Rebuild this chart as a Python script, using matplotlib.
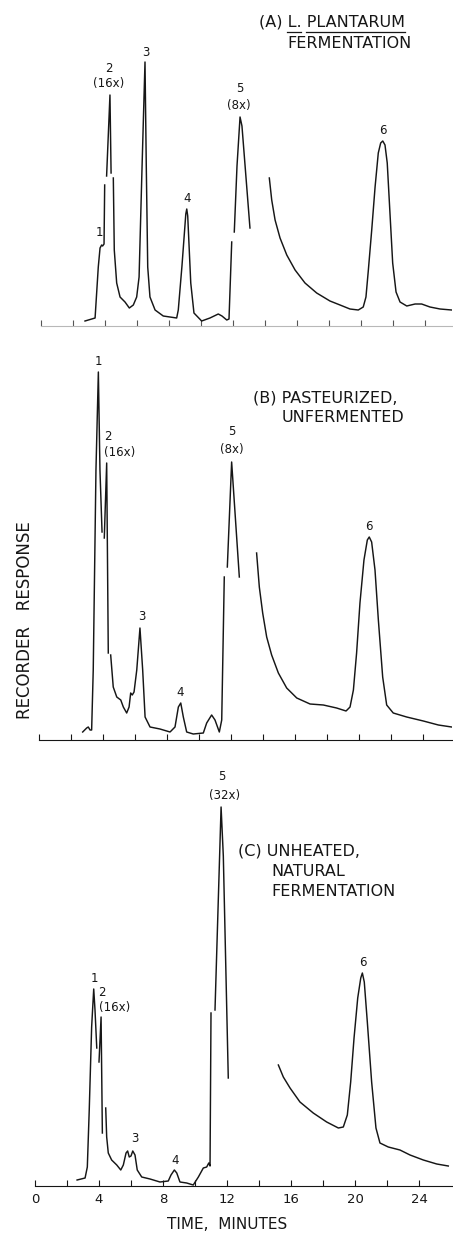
import matplotlib.pyplot as plt
from matplotlib.lines import Line2D

W, H = 453, 1237
INK = '#161616'

# ---- (A) L. plantarum fermentation: trace pieces (minutes, response)
a_time = [
    [2.75, 3.38, 3.58, 3.69, 3.79, 3.85, 3.94, 3.98],
    [4.10, 4.31, 4.38],
    [4.52, 4.58, 4.73, 4.94, 5.25, 5.52, 5.77, 5.98, 6.13, 6.30, 6.50, 6.58, 6.67,
     6.81, 7.13, 7.64, 8.48, 8.58, 8.81, 9.05, 9.11, 9.17, 9.36, 9.56, 10.04, 10.56,
     11.08, 11.31, 11.61, 11.75, 11.92],
    [12.08, 12.25, 12.44, 12.56, 13.06],
    [14.27, 14.42, 14.63, 14.94, 15.36, 15.88, 16.50, 17.23, 18.06, 18.69, 19.31,
     19.83, 20.14, 20.31, 20.46, 20.67, 20.88, 21.08, 21.23, 21.36, 21.50, 21.64,
     21.81, 21.98, 22.19, 22.44, 22.86, 23.38, 23.79, 24.31, 24.94, 25.67],
]
a_resp = [
    [5, 8, 59, 78, 81, 80, 82, 141],
    [150, 231, 153],
    [148, 76, 43, 29, 24, 18, 21, 29, 49, 150, 264, 160, 59,
     29, 16, 10, 8, 16, 60, 112, 117, 110, 43, 13, 5, 8,
     12, 10, 6, 7, 84],
    [94, 160, 209, 200, 98],
    [148, 126, 106, 88, 71, 56, 43, 33, 25, 21, 17,
     16, 19, 29, 56, 96, 139, 173, 183, 185, 181, 163,
     113, 63, 34, 24, 20, 22, 22, 19, 17, 16],
]
a_labels = ['1', '2', '(16x)', '3', '4', '5', '(8x)', '6']

# ---- (B) pasteurized, unfermented
b_time = [
    [2.73, 2.98, 3.08, 3.19, 3.29, 3.39, 3.56, 3.71, 3.81, 3.94],
    [4.08, 4.23, 4.33],
    [4.48, 4.64, 4.86, 5.11, 5.27, 5.48, 5.63, 5.73, 5.83, 5.94, 6.11, 6.31, 6.48,
     6.63, 6.94, 7.56, 8.19, 8.50, 8.71, 8.86, 9.02, 9.23, 9.64, 10.27, 10.48,
     10.79, 11.00, 11.27, 11.42, 11.58],
    [11.77, 12.04, 12.52],
    [13.60, 13.77, 13.98, 14.23, 14.54, 14.96, 15.48, 16.11, 16.94, 17.77, 18.60,
     19.19, 19.44, 19.65, 19.85, 20.06, 20.31, 20.52, 20.64, 20.79, 21.00, 21.21,
     21.48, 21.73, 22.14, 22.98, 24.02, 24.96, 25.79],
]
b_resp = [
    [8, 12, 13, 10, 10, 70, 270, 368, 270, 208],
    [202, 277, 87],
    [85, 53, 43, 40, 33, 27, 33, 47, 45, 48, 70, 112, 70,
     23, 13, 11, 8, 13, 33, 37, 23, 8, 6, 7, 17,
     25, 20, 8, 20, 163],
    [173, 278, 163],
    [187, 153, 127, 103, 85, 67, 52, 42, 36, 35, 32,
     29, 33, 50, 87, 137, 180, 200, 203, 198, 170, 120,
     63, 35, 27, 23, 19, 15, 13],
]
b_labels = ['1', '2', '(16x)', '3', '4', '5', '(8x)', '6']

# ---- (C) unheated, natural fermentation
c_time = [
    [2.63, 3.13, 3.27, 3.39, 3.54, 3.67, 3.75, 3.86],
    [4.00, 4.13, 4.21],
    [4.42, 4.48, 4.58, 4.79, 5.11, 5.36, 5.52, 5.69, 5.79, 5.89, 6.00, 6.11, 6.25,
     6.39, 6.67, 7.19, 7.81, 8.33, 8.50, 8.71, 8.86, 9.06, 9.48, 9.89, 10.21,
     10.52, 10.73, 10.86, 10.94, 11.00],
    [11.25, 11.63, 11.77, 12.08],
    [15.21, 15.52, 15.94, 16.56, 17.39, 18.23, 18.96, 19.27, 19.52, 19.73, 19.94,
     20.17, 20.36, 20.46, 20.58, 20.77, 21.04, 21.31, 21.56, 22.08, 22.81, 23.44,
     24.27, 25.11, 25.83],
]
c_resp = [
    [6, 8, 19, 76, 159, 197, 176, 138],
    [124, 169, 53],
    [78, 49, 33, 26, 21, 16, 21, 33, 35, 29, 30, 35, 31,
     16, 9, 7, 4, 5, 11, 16, 13, 4, 3, 1, 9,
     18, 19, 23, 20, 173],
    [176, 379, 330, 108],
    [121, 109, 98, 84, 73, 64, 58, 59, 71, 104, 148,
     188, 208, 213, 204, 164, 104, 58, 43, 39, 36, 31,
     26, 22, 20],
]
c_labels = ['1', '2', '(16x)', '3', '4', '5', '(32x)', '6']

time_ticks = [0, 2, 4, 6, 8, 10, 12, 14, 16, 18, 20, 22, 24]
time_ticklabels = ['0', '', '4', '', '8', '', '12', '', '16', '', '20', '', '24']

fig = plt.figure(figsize=(W / 100, H / 100), dpi=100)


def panel(left, base, top):
    ax = fig.add_axes([left / W, (H - base) / H, (452 - left) / W, (base - top) / H])
    ax.set_xlim(0, (452 - left) / 16)
    ax.set_ylim(0, base - top)
    for s in ['left', 'right', 'top']:
        ax.spines[s].set_visible(False)
    ax.set_yticks([])
    ax.patch.set_alpha(0)
    return ax


def trace(ax, times, resp):
    for t, r in zip(times, resp):
        ax.plot(t, r, color=INK, lw=1.05, solid_joinstyle='round')


def labels(ax, texts, pos):
    for s, (x, y) in zip(texts, pos):
        ax.text(x, y, s, fontsize=8.5, ha='center', va='center', color=INK)


ax_a = panel(41, 326, 6)
ax_b = panel(39, 740, 340)
ax_c = panel(35, 1186, 776)

trace(ax_a, a_time, a_resp)
trace(ax_b, b_time, b_resp)
trace(ax_c, c_time, c_resp)

labels(ax_a, a_labels, [(3.64, 94), (4.25, 258), (4.25, 242), (6.56, 273),
                        (9.13, 127), (12.44, 238), (12.38, 220), (21.38, 195)])
labels(ax_b, b_labels, [(3.71, 378), (4.33, 303), (5.06, 287), (6.42, 123),
                        (8.81, 47), (12.04, 308), (12.08, 290), (20.64, 213)])
labels(ax_c, c_labels, [(3.69, 208), (4.17, 194), (4.96, 178), (6.21, 47),
                        (8.75, 26), (11.67, 409), (11.875, 391), (20.48, 223)])

# axes ticks
for ax in (ax_a, ax_b, ax_c):
    ax.set_xticks(time_ticks)
    ax.tick_params(axis='x', direction='in', length=4, width=0.8, colors=INK)
ax_a.set_xticklabels([])
ax_b.set_xticklabels([])
ax_a.spines['bottom'].set_color('#b8b8b8')
ax_a.tick_params(axis='x', colors='#555555')
ax_b.spines['bottom'].set_color(INK)
ax_c.spines['bottom'].set_color(INK)
ax_c.set_xticklabels(time_ticklabels, fontsize=9.5, color=INK)
ax_c.tick_params(axis='x', pad=5)
ax_c.set_xlabel('TIME,  MINUTES', fontsize=11, color=INK)
ax_c.xaxis.set_label_coords((226.7 - 35) / 417, -(1217 - 1186) / 410)

# panel captions
FS = 11.5
ta = ax_a.text(18.16, 304, '(A) L. PLANTARUM', fontsize=FS, ha='center', va='center', color=INK)
ax_a.text(19.29, 282, 'FERMENTATION', fontsize=FS, ha='center', va='center', color=INK)
ax_b.text(17.9, 342, '(B) PASTEURIZED,', fontsize=FS, ha='center', va='center', color=INK)
ax_b.text(19.0, 322, 'UNFERMENTED', fontsize=FS, ha='center', va='center', color=INK)
ax_c.text(12.7, 335, '(C) UNHEATED,', fontsize=FS, ha='left', va='center', color=INK)
ax_c.text(14.79, 315, 'NATURAL', fontsize=FS, ha='left', va='center', color=INK)
ax_c.text(14.79, 294, 'FERMENTATION', fontsize=FS, ha='left', va='center', color=INK)

fig.text(25 / W, 1 - 620 / H, 'RECORDER   RESPONSE', rotation=90, fontsize=12,
         ha='center', va='center', color=INK)

# underline the species name
fig.canvas.draw()
r = fig.canvas.get_renderer()


def width(s):
    t = fig.text(0, 0, s, fontsize=FS)
    w = t.get_window_extent(r).width
    t.remove()
    return w


bb = ta.get_window_extent(r)
yl = bb.y0 - 2
x_l0 = bb.x0 + width('(A) L.') - width('L.')
x_l1 = bb.x0 + width('(A) L.')
x_p0 = bb.x1 - width('PLANTARUM')
for x0, x1 in [(x_l0, x_l1), (x_p0, bb.x1)]:
    fig.add_artist(Line2D([x0 / W, x1 / W], [yl / H, yl / H], color=INK, lw=0.9,
                          transform=fig.transFigure))

fig.savefig('out.png', dpi=100)
